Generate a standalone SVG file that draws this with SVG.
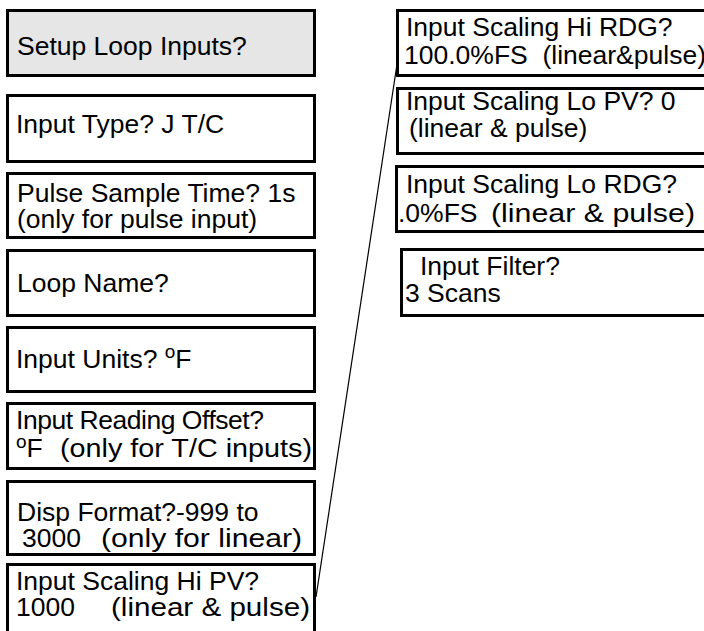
<svg xmlns="http://www.w3.org/2000/svg" width="704" height="631" viewBox="0 0 704 631">
<style>
.box{fill:#fff;stroke:#000;stroke-width:3}
.hl{fill:#e6e6e6}
text{font-family:"Liberation Sans",Arial,Helvetica,sans-serif;font-size:26.5px;fill:#000;white-space:pre}
.sup{font-size:19px}
.conn{stroke:#000;stroke-width:1.2;fill:none}
</style>
<rect width="704" height="631" fill="#fff"/>
<g id="connectors">
<line class="conn" x1="316" y1="597" x2="401" y2="38"/>
</g>
<g id="n1"><rect class="box hl" x="7.5" y="10.5" width="307" height="65"/><text x="17" y="55">Setup Loop Inputs?</text></g>
<g id="n2"><rect class="box" x="7.5" y="95.5" width="307" height="66"/><text x="16" y="133">Input Type? J T/C</text></g>
<g id="n3"><rect class="box" x="7.5" y="173.5" width="307" height="64"/><text x="17" y="202">Pulse Sample Time? 1s</text><text x="17" y="228">(only for pulse input)</text></g>
<g id="n4"><rect class="box" x="7.5" y="250.5" width="307" height="65"/><text x="17" y="292">Loop Name?</text></g>
<g id="n5"><rect class="box" x="7.5" y="327.5" width="307" height="64"/><text x="16" y="368">Input Units? <tspan class="sup" dy="-10">o</tspan><tspan dy="10">F</tspan></text></g>
<g id="n6"><rect class="box" x="7.5" y="403.5" width="307" height="65"/><text x="16" y="429" textLength="248" lengthAdjust="spacing">Input Reading Offset?</text><text x="16" y="457"><tspan class="sup" dy="-9">o</tspan><tspan dy="9">F</tspan></text><text x="60" y="457" textLength="252" lengthAdjust="spacingAndGlyphs">(only for T/C inputs)</text></g>
<g id="n7"><rect class="box" x="7.5" y="481.5" width="307" height="73"/><text x="17" y="521">Disp Format?-999 to</text><text x="22" y="547">3000</text><text x="101" y="547" textLength="201" lengthAdjust="spacingAndGlyphs">(only for linear)</text></g>
<g id="n8"><rect class="box" x="7.5" y="564.5" width="307" height="80"/><text x="16" y="590">Input Scaling Hi PV?</text><text x="16" y="616">1000</text><text x="111" y="616" textLength="199" lengthAdjust="spacingAndGlyphs">(linear &amp; pulse)</text></g>
<g id="n9"><rect class="box" x="397.5" y="10.5" width="330" height="65"/><text x="406" y="36">Input Scaling Hi RDG?</text><text x="404" y="64">100.0%FS  (linear&amp;pulse)</text></g>
<g id="n10"><rect class="box" x="397.5" y="88.5" width="330" height="65"/><text x="406" y="110">Input Scaling Lo PV? 0</text><text x="409" y="137">(linear &amp; pulse)</text></g>
<g id="n11"><rect class="box" x="396.5" y="166.5" width="330" height="65"/><text x="406" y="193">Input Scaling Lo RDG?</text><text x="398" y="222">.0%FS</text><text x="491" y="222" textLength="204" lengthAdjust="spacingAndGlyphs">(linear &amp; pulse)</text></g>
<g id="n12"><rect class="box" x="401.5" y="249.5" width="330" height="66"/><text x="420" y="275">Input Filter?</text><text x="405" y="302">3 Scans</text></g>
</svg>
